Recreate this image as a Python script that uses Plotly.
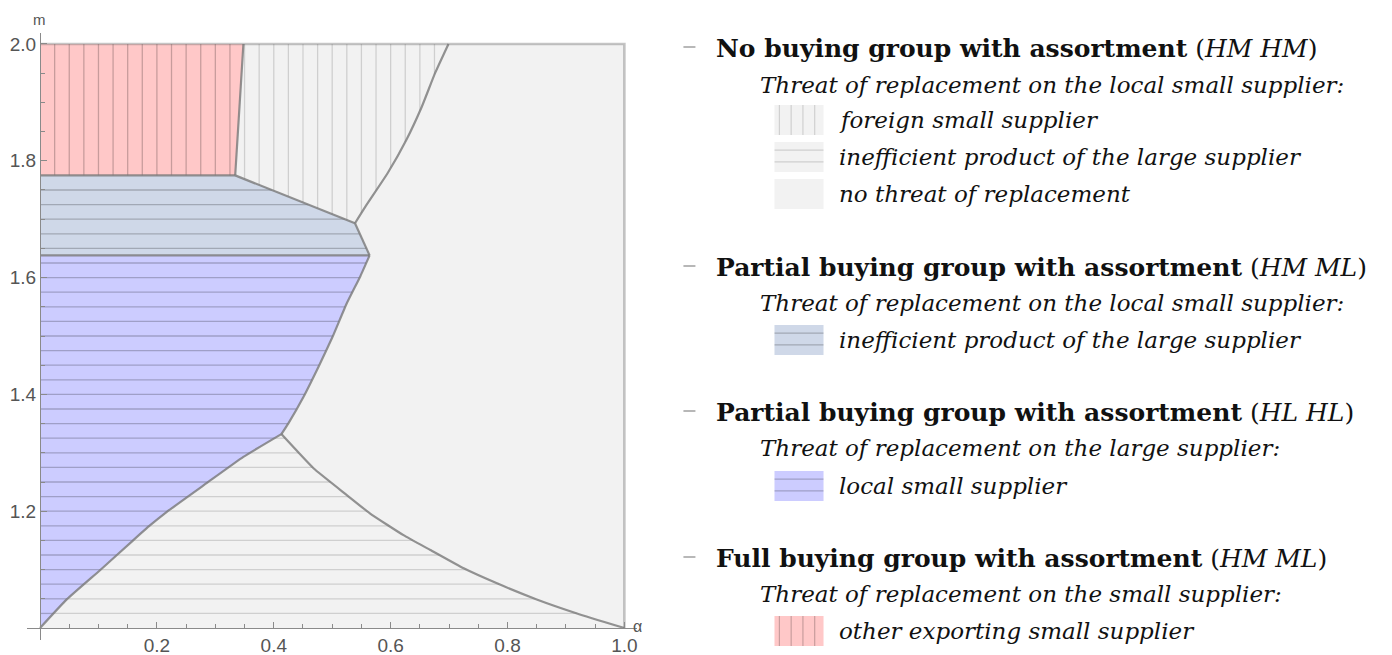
import numpy as np
import plotly.graph_objects as go

# ---------------- data (alpha, m) ----------------
# divider between red region and foreign-supplier region (top -> bottom)
div_alpha = [0.348, 0.334]
div_m = [2.0, 1.775]
# diagonal between HM-ML region and foreign-supplier region
diag_alpha = [0.334, 0.539]
diag_m = [1.775, 1.693]
# right boundary of foreign-supplier region (bottom -> top)
fr_alpha = [0.539, 0.5565, 0.595, 0.627, 0.6535, 0.676, 0.699]
fr_m = [1.693, 1.721, 1.779, 1.836, 1.893, 1.950, 2.0]
# tip of HM-ML region
tip_alpha = [0.539, 0.564]
tip_m = [1.693, 1.638]
# horizontal split levels
split_m = 1.638
top_split_m = 1.775
# right boundary of HL-HL region (bottom -> top)
br_alpha = [0.413, 0.425, 0.451, 0.4766, 0.4995, 0.525, 0.548, 0.564]
br_m = [1.332, 1.3505, 1.396, 1.4474, 1.496, 1.556, 1.602, 1.638]
# lower-left boundary of HL-HL region (bottom -> top)
ll_alpha = [0.0, 0.0457, 0.1027, 0.157, 0.1855, 0.217, 0.285, 0.348, 0.413]
ll_m = [1.0, 1.049, 1.099, 1.148, 1.1735, 1.199, 1.248, 1.293, 1.332]
# lower-right curve (corner -> (1,1))
lr_alpha = [0.413, 0.468, 0.525, 0.565, 0.622, 0.668, 0.725, 0.782, 0.850, 0.919, 1.0]
lr_m = [1.332, 1.2735, 1.2277, 1.196, 1.159, 1.1336, 1.1022, 1.0765, 1.049, 1.025, 1.0]

hatch_step = 0.025

x_ticks = [0.2, 0.4, 0.6, 0.8, 1.0]
y_ticks = [1.2, 1.4, 1.6, 1.8, 2.0]

# legend texts
headers = [
    "<b>No buying group with assortment</b> (<i>HM HM</i>)",
    "<b>Partial buying group with assortment</b> (<i>HM ML</i>)",
    "<b>Partial buying group with assortment</b> (<i>HL HL</i>)",
    "<b>Full buying group with assortment</b> (<i>HM ML</i>)",
]
subheaders = [
    "<i>Threat of replacement on the local small supplier:</i>",
    "<i>Threat of replacement on the local small supplier:</i>",
    "<i>Threat of replacement on the large supplier:</i>",
    "<i>Threat of replacement on the small supplier:</i>",
]
items = [
    ("foreign small supplier", "light", "v"),
    ("inefficient product of the large supplier", "light", "h"),
    ("no threat of replacement", "light", None),
    ("inefficient product of the large supplier", "bluegray", "h"),
    ("local small supplier", "blue", "h"),
    ("other exporting small supplier", "red", "v"),
]

# ---------------- styles ----------------
COL = {"light": "#f2f2f2", "red": "#ffc8c8", "bluegray": "#cfd8e8", "blue": "#ccccff"}
HATCH_DARK = "rgba(0,0,0,0.22)"
HATCH_LIGHT = "rgba(0,0,0,0.14)"
BOUND = "rgba(120,120,120,0.8)"
FRAME = "rgba(110,110,110,0.4)"
AXIS = "#8a8a8a"
TICKFONT = "#555555"
SERIF = "DejaVu Serif"

# page offset (browser body margin) and figure size
OFF = 8
W_FIG, H_FIG = 1392 - OFF, 655 - OFF
# plot area in page pixels: left/right/top/bottom
P_L, P_R, P_T, P_B = 27, 636.6, 33, 640
ML, MT = P_L - OFF, P_T - OFF
MR, MB = W_FIG - (P_R - OFF), H_FIG - (P_B - OFF)
x_range = [-0.0223, 1.0216]
y_range = [0.9795, 2.0188]
PW = P_R - P_L
PH = P_B - P_T


def xp(px):
    return (px - P_L) / PW


def yp(py):
    return (P_B - py) / PH


fig = go.Figure()


def poly(ax, mx, color):
    fig.add_trace(go.Scatter(x=list(ax) + [ax[0]], y=list(mx) + [mx[0]], fill="toself",
                             fillcolor=color, mode="lines", line=dict(width=0),
                             hoverinfo="skip", showlegend=False))


# background (no threat) region
poly([0, 1, 1, 0], [1, 1, 2, 2], COL["light"])
# red region
poly([0] + div_alpha + [0], [2.0] + div_m + [top_split_m], COL["red"])
# blue-gray region
poly([0] + diag_alpha + tip_alpha[1:] + [0],
     [top_split_m] + diag_m + tip_m[1:] + [split_m], COL["bluegray"])
# blue region
poly([0] + [br_alpha[-1]] + br_alpha[::-1][1:] + ll_alpha[::-1][1:],
     [split_m] + [br_m[-1]] + br_m[::-1][1:] + ll_m[::-1][1:], COL["blue"])

# ---------------- hatching ----------------
env_m = lr_m[::-1] + br_m[1:] + tip_m[::-1][1:] + diag_m[::-1][1:]
env_a = lr_alpha[::-1] + br_alpha[1:] + tip_alpha[::-1][1:] + diag_alpha[::-1][1:]
hx_d, hy_d, hx_l, hy_l = [], [], [], []
k = 1
while 1 + k * hatch_step < top_split_m - 1e-6:
    m = 1 + k * hatch_step
    xr = float(np.interp(m, env_m, env_a))
    xl = float(np.interp(m, ll_m, ll_alpha)) if m < ll_m[-1] else xr
    hx_d += [0, xl, None]
    hy_d += [m, m, None]
    if xr > xl:
        hx_l += [xl, xr, None]
        hy_l += [m, m, None]
    k += 1

low_a = diag_alpha + fr_alpha[1:]
low_m = diag_m + fr_m[1:]
vx_d, vy_d, vx_l, vy_l = [], [], [], []
k = 1
while k * hatch_step < fr_alpha[-1] - 1e-6:
    a = k * hatch_step
    if a < div_alpha[1]:
        vx_d += [a, a, None]
        vy_d += [top_split_m, 2.0, None]
    else:
        mb = float(np.interp(a, low_a, low_m))
        vx_l += [a, a, None]
        vy_l += [mb, 2.0, None]
    k += 1

for xs, ys, c in [(hx_d, hy_d, HATCH_DARK), (hx_l, hy_l, HATCH_LIGHT),
                  (vx_d, vy_d, HATCH_DARK), (vx_l, vy_l, HATCH_LIGHT)]:
    fig.add_trace(go.Scatter(x=xs, y=ys, mode="lines", line=dict(color=c, width=1.3),
                             hoverinfo="skip", showlegend=False))

# ---------------- boundaries ----------------
bx, by = [], []
for a_, m_ in [(div_alpha, div_m), (diag_alpha, diag_m), (fr_alpha, fr_m), (tip_alpha, tip_m),
               ([0, br_alpha[-1]], [split_m, split_m]), ([0, div_alpha[1]], [top_split_m, top_split_m]),
               (br_alpha, br_m), (ll_alpha, ll_m), (lr_alpha, lr_m)]:
    bx += list(a_) + [None]
    by += list(m_) + [None]
fig.add_trace(go.Scatter(x=bx, y=by, mode="lines", line=dict(color=BOUND, width=2.2, shape="spline", smoothing=0.4),
                         hoverinfo="skip", showlegend=False))
fig.add_trace(go.Scatter(x=[0, 1, 1], y=[2, 2, 1], mode="lines", line=dict(color=FRAME, width=2.6),
                         hoverinfo="skip", showlegend=False))

# ---------------- axes ----------------
xpos = (1.0 - y_range[0]) / (y_range[1] - y_range[0])
ypos = (0.0 - x_range[0]) / (x_range[1] - x_range[0])
common = dict(showgrid=False, zeroline=False, showline=True, linecolor=AXIS, linewidth=1.2,
              ticks="inside", ticklen=6, tickcolor=AXIS, tickwidth=1.1,
              tickfont=dict(family="Liberation Sans", size=19, color=TICKFONT),
              minor=dict(dtick=0.05, tick0=0, ticks="inside", ticklen=3.5, tickcolor=AXIS,
                         tickwidth=1, showgrid=False),
              fixedrange=True)
fig.update_xaxes(range=x_range, anchor="free", position=xpos, tickvals=x_ticks,
                 ticktext=[f"{v:.1f}" for v in x_ticks], **common)
fig.update_yaxes(range=y_range, anchor="free", position=ypos, tickvals=y_ticks,
                 ticktext=[f"{v:.1f}" for v in y_ticks], **common)

annotations = [
    dict(x=xp(39), y=yp(9), xref="paper", yref="paper", text="m", showarrow=False,
         xanchor="center", yanchor="top", font=dict(family="Liberation Sans", size=15, color=TICKFONT)),
    dict(x=xp(637), y=yp(626), xref="paper", yref="paper", text="α", showarrow=False,
         xanchor="center", yanchor="middle", font=dict(family="Liberation Sans", size=16, color=TICKFONT)),
]
shapes = []

# ---------------- legend (drawn manually) ----------------
header_y = [48, 267, 412, 558]
sub_y = [85, 303, 448, 594]
item_y = [120, 157, 194, 340, 486, 631]
SW_X0, SW_X1, SW_H = 774, 823, 30

for hy, ht in zip(header_y, headers):
    shapes.append(dict(type="line", xref="paper", yref="paper", x0=xp(683), x1=xp(695),
                       y0=yp(hy - 1), y1=yp(hy - 1), line=dict(color="#888888", width=1.2)))
    annotations.append(dict(x=xp(714), y=yp(hy), xref="paper", yref="paper", text=ht,
                            showarrow=False, xanchor="left", yanchor="middle",
                            font=dict(family=SERIF, size=25, color="#111111")))
for sy, st in zip(sub_y, subheaders):
    annotations.append(dict(x=xp(758), y=yp(sy), xref="paper", yref="paper", text=st,
                            showarrow=False, xanchor="left", yanchor="middle",
                            font=dict(family=SERIF, size=23, color="#111111")))
for iy, (txt, col, hatch) in zip(item_y, items):
    y0, y1 = iy - SW_H / 2, iy + SW_H / 2
    shapes.append(dict(type="rect", xref="paper", yref="paper", x0=xp(SW_X0), x1=xp(SW_X1),
                       y0=yp(y1), y1=yp(y0), fillcolor=COL[col], line=dict(width=0)))
    hc = HATCH_LIGHT if col == "light" else HATCH_DARK
    if hatch == "v":
        for f in [0.1, 0.34, 0.58, 0.82]:
            px = SW_X0 + f * (SW_X1 - SW_X0)
            shapes.append(dict(type="line", xref="paper", yref="paper", x0=xp(px), x1=xp(px),
                               y0=yp(y1), y1=yp(y0), line=dict(color=hc, width=1.2)))
    elif hatch == "h":
        for f in [0.27, 0.66]:
            py = y0 + f * SW_H
            shapes.append(dict(type="line", xref="paper", yref="paper", x0=xp(SW_X0), x1=xp(SW_X1),
                               y0=yp(py), y1=yp(py), line=dict(color=hc, width=1.2)))
    annotations.append(dict(x=xp(836), y=yp(iy), xref="paper", yref="paper", text=f"<i>{txt}</i>",
                            showarrow=False, xanchor="left", yanchor="middle",
                            font=dict(family=SERIF, size=23, color="#111111")))

fig.update_layout(width=W_FIG, height=H_FIG, margin=dict(l=ML, r=MR, t=MT, b=MB, autoexpand=False),
                  plot_bgcolor="white", paper_bgcolor="white", showlegend=False,
                  annotations=annotations, shapes=shapes, hovermode=False)

fig.write_html("out.html")
